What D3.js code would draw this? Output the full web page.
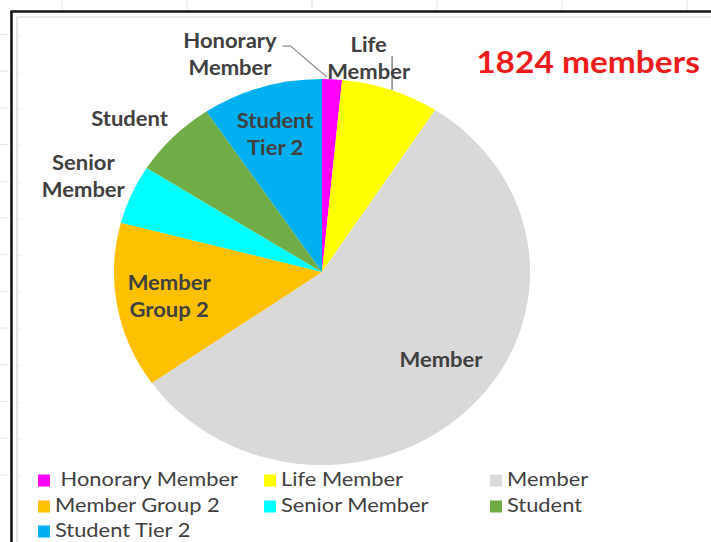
<!DOCTYPE html>
<html>
<head>
<meta charset="utf-8">
<script src="https://cdn.jsdelivr.net/npm/d3@7"></script>
<style>
  html, body { margin: 0; padding: 0; background: #fff; }
  svg { display: block; }
</style>
</head>
<body>
<svg id="chart" width="711" height="542"></svg>
<script>
// ---- data ----
const categories = ["Honorary Member", "Life Member", "Member", "Member Group 2", "Senior Member", "Student", "Student Tier 2"];
const counts = [28, 139, 1023, 253, 90, 120, 171];
const colors = ["#FF00FF", "#FFFF00", "#D9D9D9", "#FFC000", "#00FFFF", "#70AD47", "#00B0F0"];
const labelLines = [["Honorary", "Member"], ["Life", "Member"], ["Member"], ["Member", "Group 2"], ["Senior", "Member"], ["Student"], ["Student", "Tier 2"]];
const legendNames = ["\u00A0Honorary Member", "Life Member", "Member", "Member Group 2", "Senior Member", "Student", "Student Tier 2"];
const titleText = "1824 members";

// ---- layout config ----
const W = 711, H = 542;
const cx = 322, cy = 272, R = 193, sx = 1.078;
// label placement: radius factor and angle nudge (degrees) per slice
const labelRadius = [1.21, 1.13, 0.73, 0.745, 1.25, 1.22, 0.75];
const labelNudge = [-24.2, -7.8, -5.5, 0.6, -0.3, -3.7, -0.6];
const labelFont = "Lato, 'Open Sans', sans-serif";
const textStretch = 1.1, legendStretch = 1.15, titleStretch = 1.08;

const svg = d3.select("#chart");

// background faint spreadsheet grid
const gridG = svg.append("g");
[62, 187, 312, 437, 562, 687].forEach(x => {
  gridG.append("line").attr("x1", x).attr("x2", x).attr("y1", 0).attr("y2", 10)
    .attr("stroke", "#e3e3e3").attr("stroke-width", 1);
});
d3.range(0, 13).map(i => 34.5 + i * 36.7).forEach(y => {
  gridG.append("line").attr("x1", 0).attr("x2", 9).attr("y1", y).attr("y2", y)
    .attr("stroke", "#e6e6e6").attr("stroke-width", 1);
  gridG.append("line").attr("x1", 17).attr("x2", 21).attr("y1", y + 1).attr("y2", y + 1)
    .attr("stroke", "#ececec").attr("stroke-width", 1);
});

// frame: black outer + light inner
svg.append("path").attr("d", `M11.5,${H + 5} V11.5 H${W + 5}`)
  .attr("fill", "none").attr("stroke", "#151515").attr("stroke-width", 2.6);
svg.append("path").attr("d", `M17,${H + 5} V17 H${W + 5}`)
  .attr("fill", "none").attr("stroke", "#d4d4d4").attr("stroke-width", 1.2);

// pie
const pie = d3.pie().sort(null).value(d => d)(counts);
const arc = d3.arc().innerRadius(0).outerRadius(R);
const pieG = svg.append("g").attr("transform", `translate(${cx},${cy}) scale(${sx},1)`);
pieG.selectAll("path").data(pie).join("path")
  .attr("d", arc)
  .attr("fill", (d, i) => colors[i]);

// helper: polar (angle radians clockwise from top) to screen
function pt(angle, r) {
  return [cx + sx * r * Math.sin(angle), cy - r * Math.cos(angle)];
}

const midA = pie.map(d => (d.startAngle + d.endAngle) / 2);
const leadG = svg.append("g").attr("fill", "none").attr("stroke-width", 1.1);

// data labels
const fs = 20, lh = 27;
const labG = svg.append("g").attr("font-family", labelFont).attr("font-weight", "bold")
  .attr("font-size", fs).attr("fill", "#404040").attr("text-anchor", "middle");
const labelBoxes = [];
pie.forEach((d, i) => {
  const a = midA[i] + labelNudge[i] * Math.PI / 180;
  const [lx, ly] = pt(a, R * labelRadius[i]);
  const lines = labelLines[i];
  const t = labG.append("text")
    .attr("transform", `translate(${lx},${ly}) scale(${textStretch},1)`);
  lines.forEach((s, k) => {
    t.append("tspan").attr("x", 0)
      .attr("y", -(lines.length - 1) * lh / 2 + k * lh + fs * 0.36)
      .text(s);
  });
  labelBoxes.push({ x: lx, y: ly, node: t.node() });
});

// Honorary leader: from right of first line to slice edge
{
  const i = 0;
  const b = labelBoxes[i].node.getBBox();
  const firstW = labelBoxes[i].node.querySelector("tspan").getComputedTextLength() * textStretch;
  const lineY = labelBoxes[i].y - lh / 2 + 5;
  const [ex, ey] = pt(midA[i], R);
  const x0 = labelBoxes[i].x + firstW / 2 + 6;
  leadG.append("polyline")
    .attr("points", `${x0},${lineY} ${x0 + 8},${lineY} ${ex - 5},${ey - 2}`)
    .attr("stroke", "#8c8c8c");
}
// Life leader: vertical from slice edge upwards into label
{
  const i = 1;
  const [ex, ey] = pt(midA[i], R);
  leadG.append("line").attr("x1", ex + 1.5).attr("x2", ex + 1.5).attr("y1", ey).attr("y2", labelBoxes[i].y - 2)
    .attr("stroke", "#595959");
}

// title
svg.append("text").attr("transform", `translate(588,73) scale(${titleStretch},1)`)
  .attr("text-anchor", "middle").attr("font-family", labelFont).attr("font-weight", "bold")
  .attr("font-size", 31).attr("fill", "#EE1C1C").text(titleText);

// legend
const legCols = [38, 264, 490], legRows = [486, 512, 537];
const legG = svg.append("g").attr("font-family", labelFont).attr("font-size", 19).attr("fill", "#404040");
categories.forEach((c, i) => {
  const col = i % 3, row = Math.floor(i / 3);
  const x = legCols[col], y = legRows[row];
  legG.append("rect").attr("x", x).attr("y", y - 11.5).attr("width", 12).attr("height", 12)
    .attr("fill", colors[i]);
  legG.append("text").attr("transform", `translate(${x + 17},${y}) scale(${legendStretch},1)`)
    .attr("xml:space", "preserve")
    .style("white-space", "pre").text(legendNames[i]);
});
</script>
</body>
</html>
